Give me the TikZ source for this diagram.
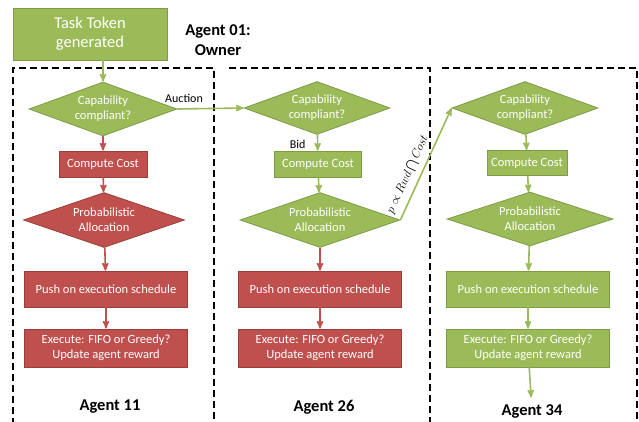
\documentclass[tikz,border=0pt]{standalone}
\usepackage{fontspec}
\setmainfont{Carlito}
\usepackage{amsmath}
\usepackage{xcolor}
\usetikzlibrary{arrows, shapes.geometric}
\definecolor{leaf}{HTML}{9BBB59}
\definecolor{leafdark}{HTML}{7E9B45}
\definecolor{brick}{HTML}{C0504D}
\definecolor{brickdark}{HTML}{9A3E3B}

\begin{document}
\begin{tikzpicture}[x=1pt, y=-1pt,
				>=stealth',
				thick,
				greenbox/.style={rectangle, fill=leaf, draw=leafdark, line width=0.8pt, text=white, align=center, inner sep=0pt, font=\fontsize{12.5}{15}\selectfont},
				redbox/.style={greenbox, fill=brick, draw=brickdark},
				greendiam/.style={diamond, shape aspect=2.7, fill=leaf, draw=leafdark, line width=0.8pt, text=white, align=center, inner sep=0pt, font=\fontsize{12.5}{15}\selectfont},
				reddiam/.style={greendiam, fill=brick, draw=brickdark},
				greenline/.style={->, leaf, line width=1.6pt},
				redline/.style={->, brick, line width=1.6pt},
				lane/.style={black, line width=1.7pt, dash pattern=on 7pt off 4pt},
				agentname/.style={font=\fontsize{16.5}{19.5}\selectfont\bfseries},
				edgetext/.style={black, font=\fontsize{12}{14}\selectfont}]
				\useasboundingbox (0,0) rectangle (639,421);
				% agent lanes
				\draw[lane] (13,425) -- (13,68) -- (214,68) -- (214,425);
				\draw[lane] (229,68) -- (430,68) -- (430,425);
				\draw[lane] (442,68) -- (637,68) -- (637,425);
				% owner
				\node at (90,34) (task) [greenbox, minimum width=154pt, minimum height=52pt, font=\fontsize{16.5}{19}\selectfont] {Task Token\\generated};
				\node at (218,40) (owner) [align=center, agentname] {Agent 01:\\Owner};
				% agent 11
				\node at (103,109) (cap1) [greendiam, minimum width=148pt, minimum height=54pt] {Capability\\compliant?};
				\node at (103,164) (cost1) [redbox, minimum width=88pt, minimum height=26pt] {Compute Cost};
				\node at (104,220) (prob1) [reddiam, minimum width=161pt, minimum height=55pt] {Probabilistic\\Allocation};
				\node at (106,289) (push1) [redbox, minimum width=163pt, minimum height=36pt] {Push on execution schedule};
				\node at (106,348) (exec1) [redbox, minimum width=163pt, minimum height=38pt] {Execute: FIFO or Greedy?\\Update agent reward};
				\node at (110,407) (ag11) [agentname] {Agent 11};
				% agent 26
				\node at (317,108) (cap2) [greendiam, minimum width=146pt, minimum height=53pt] {Capability\\compliant?};
				\node at (318,164) (cost2) [greenbox, minimum width=87pt, minimum height=26pt] {Compute Cost};
				\node at (320,220) (prob2) [greendiam, minimum width=160pt, minimum height=55pt] {Probabilistic\\Allocation};
				\node at (320,289) (push2) [redbox, minimum width=163pt, minimum height=36pt] {Push on execution schedule};
				\node at (320,348) (exec2) [redbox, minimum width=163pt, minimum height=38pt] {Execute: FIFO or Greedy?\\Update agent reward};
				\node at (324,407) (ag26) [agentname] {Agent 26};
				% agent 34
				\node at (525,108) (cap3) [greendiam, minimum width=146pt, minimum height=53pt] {Capability\\compliant?};
				\node at (527,163) (cost3) [greenbox, minimum width=80pt, minimum height=25pt] {Compute Cost};
				\node at (530,219) (prob3) [greendiam, minimum width=166pt, minimum height=54pt] {Probabilistic\\Allocation};
				\node at (528,289) (push3) [greenbox, minimum width=163pt, minimum height=36pt] {Push on execution schedule};
				\node at (528,348) (exec3) [greenbox, minimum width=163pt, minimum height=38pt] {Execute: FIFO or Greedy?\\Update agent reward};
				\node at (532,411) (ag34) [agentname] {Agent 34};
				% flow
				\draw[greenline] (task.south -| cap1.north) -- (cap1.north);
				\draw[redline] (cap1) -- (cost1);
				\draw[redline] (cost1) -- (prob1);
				\draw[redline] (prob1) -- (push1);
				\draw[redline] (push1) -- (exec1);
				\draw[greenline] (cap1.east) -- node[above=2pt, edgetext, pos=0.1] {Auction} (cap2.west);
				\draw[greenline] (cap2) -- node[left=8pt, edgetext, pos=0.6] {Bid} (cost2);
				\draw[greenline] (cost2) -- (prob2);
				\draw[redline] (prob2) -- (push2);
				\draw[redline] (push2) -- (exec2);
				\draw[greenline] (prob2.east) -- node[sloped, above=2pt, black, pos=0.36, font=\fontsize{13}{15}\selectfont] {$p \propto Rwd \bigcap Cost$} (cap3.west);
				\draw[greenline] (cap3) -- (cost3);
				\draw[greenline] (cost3) -- (prob3);
				\draw[greenline] (prob3) -- (push3);
				\draw[greenline] (push3) -- (exec3);
				\draw[greenline, shorten >=3pt] (exec3) -- (ag34);
			\end{tikzpicture}
\end{document}
